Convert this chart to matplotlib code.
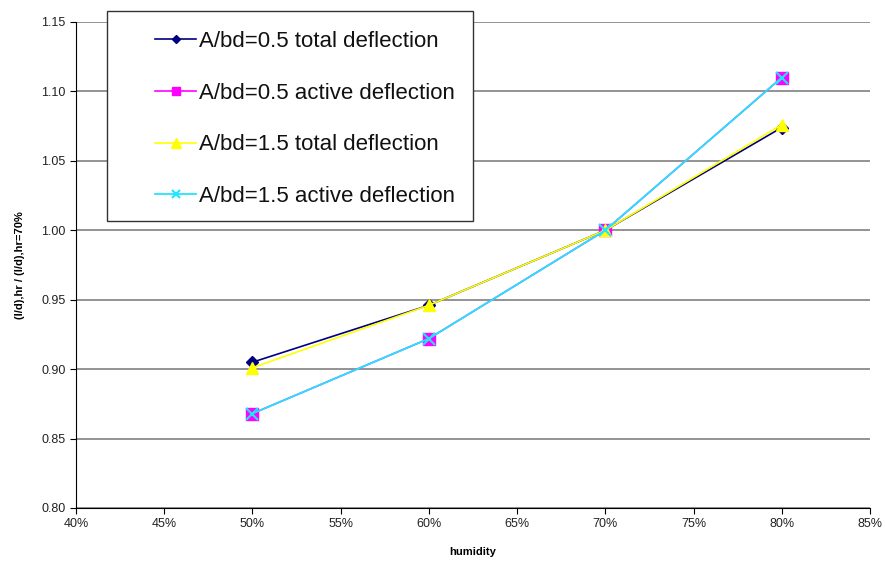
import matplotlib.pyplot as plt
from matplotlib.patches import Rectangle
from matplotlib.ticker import FuncFormatter

plt.rcParams['font.family'] = ['Liberation Sans', 'DejaVu Sans']

# humidity (%) and normalised deflection ratios
humidity = [50, 60, 70, 80]
total_05 = [0.905, 0.946, 1.000, 1.074]
active_05 = [0.868, 0.922, 1.000, 1.110]
total_15 = [0.901, 0.946, 1.000, 1.076]
active_15 = [0.868, 0.922, 1.000, 1.110]

labels = ['A/bd=0.5 total deflection', 'A/bd=0.5 active deflection',
          'A/bd=1.5 total deflection', 'A/bd=1.5 active deflection']

fig = plt.figure(figsize=(8.85, 5.63), dpi=100)
ax = fig.add_axes([76 / 885, 55 / 563, 794 / 885, 486 / 563])

ax.plot(humidity, total_05, color='#000080', marker='D', markersize=6, lw=1.2, label=labels[0])
ax.plot(humidity, active_05, color='#ff00ff', marker='s', markersize=8, lw=1.2, label=labels[1])
ax.plot(humidity, total_15, color='#ffff00', marker='^', markersize=9, lw=1.2, label=labels[2])
ax.plot(humidity, active_15, color='#1ee6ff', marker='x', markersize=8, mew=1.5, lw=1.3, label=labels[3])

ax.set_xlim(40, 85)
ax.set_ylim(0.80, 1.15)
ax.set_xticks(range(40, 86, 5))
ax.set_yticks([0.80, 0.85, 0.90, 0.95, 1.00, 1.05, 1.10, 1.15])
ax.xaxis.set_major_formatter(FuncFormatter(lambda v, p: f'{v:.0f}%'))
ax.yaxis.set_major_formatter(FuncFormatter(lambda v, p: f'{v:.2f}'))
ax.tick_params(labelsize=9, direction='out', length=4, color='black', labelcolor='#222222')
ax.grid(axis='y', color='#808080', lw=1.2)
ax.set_axisbelow(True)
for s in ['top', 'right']:
    ax.spines[s].set_visible(False)
for s in ['left', 'bottom']:
    ax.spines[s].set_color('black')

ax.set_xlabel('humidity', fontsize=8, fontweight='bold', labelpad=12)
ax.set_ylabel('(l/d),hr / (l/d),hr=70%', fontsize=8, fontweight='bold', labelpad=12)

# legend box drawn separately so the inner padding matches
fig.patches.append(Rectangle((107 / 885, 1 - 221 / 563), 366 / 885, 210 / 563,
                             transform=fig.transFigure, facecolor='white',
                             edgecolor='#333333', lw=1.0, zorder=5))
leg = fig.legend(loc='upper left', bbox_to_anchor=(155 / 885, 1 - 31 / 563),
                 fontsize=16, frameon=False, labelspacing=1.38,
                 handlelength=1.85, handletextpad=0.15, markerscale=0.75,
                 borderpad=0, borderaxespad=0, labelcolor='#111111')
leg.set_zorder(10)

fig.savefig('out.png', dpi=100)
